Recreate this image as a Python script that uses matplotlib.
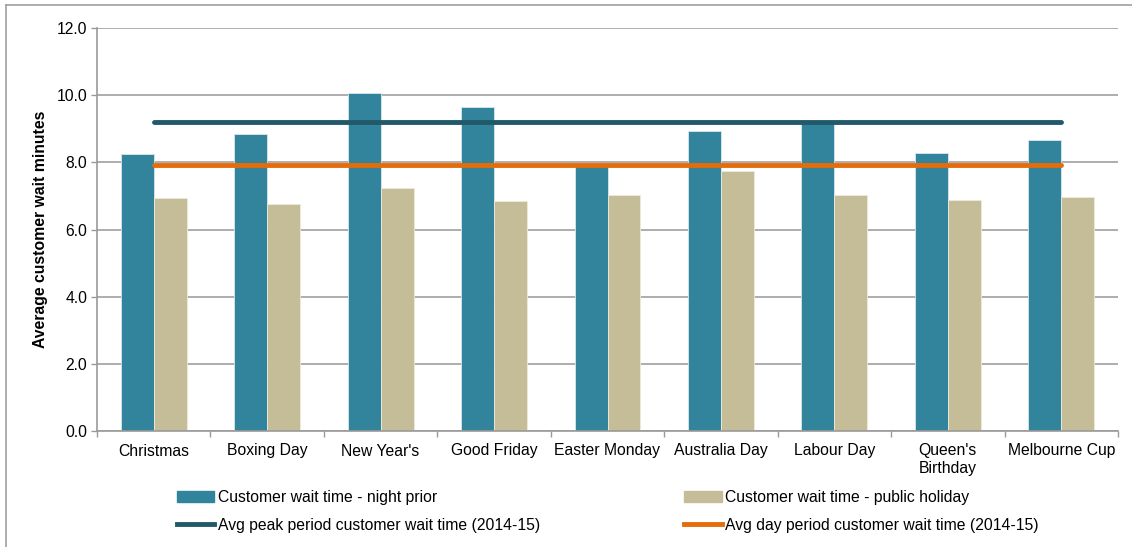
import numpy as np
import matplotlib.pyplot as plt
from matplotlib.lines import Line2D

plt.rcParams['font.family'] = ['Liberation Sans', 'DejaVu Sans']

holidays = ['Christmas', 'Boxing Day', "New Year's", 'Good Friday', 'Easter Monday',
            'Australia Day', 'Labour Day', "Queen's\nBirthday", 'Melbourne Cup']
night_prior = [8.24, 8.84, 10.06, 9.64, 7.92, 8.93, 9.20, 8.27, 8.66]
public_holiday = [6.93, 6.76, 7.23, 6.85, 7.02, 7.74, 7.02, 6.87, 6.96]
avg_peak = 9.19
avg_day = 7.93

c_night = '#31849B'
c_hol = '#C4BD97'
c_peak = '#215968'
c_day = '#E46C0A'
fs = 11.3

fig = plt.figure(figsize=(11.32, 5.47), dpi=100)
ax = fig.add_axes([97/1132, 1 - 431/547, 1021/1132, 403/547])

x = np.arange(len(holidays))
w = 0.29
ax.bar(x - w/2, night_prior, w, color=c_night, edgecolor='#d8e8ec', linewidth=0.6, zorder=2)
ax.bar(x + w/2, public_holiday, w, color=c_hol, edgecolor='#eeeadc', linewidth=0.6, zorder=2)
ax.plot([x[0], x[-1]], [avg_peak, avg_peak], color=c_peak, lw=3.5, solid_capstyle='round', zorder=3)
ax.plot([x[0], x[-1]], [avg_day, avg_day], color=c_day, lw=3.5, solid_capstyle='round', zorder=3)

ax.set_xlim(-0.5, len(holidays) - 0.5)
ax.set_ylim(0, 12)
ax.set_yticks(np.arange(0, 12.1, 2))
ax.set_yticklabels([f'{v:.1f}' for v in np.arange(0, 12.1, 2)], fontsize=fs)
ax.yaxis.grid(True, color='#a0a0a0', lw=1.2, zorder=0)
ax.set_axisbelow(True)

ax.set_xticks(x)
ax.set_xticklabels(holidays, fontsize=fs)
ax.tick_params(axis='x', length=0, pad=9)
ax.set_xticks(np.arange(-0.5, len(holidays)), minor=True)
ax.tick_params(axis='x', which='minor', length=4, color='#999999', width=1)
ax.tick_params(axis='y', length=4, color='#999999', width=1, pad=3)

for s in ['top', 'right']:
    ax.spines[s].set_visible(False)
for s in ['left', 'bottom']:
    ax.spines[s].set_color('#999999')
    ax.spines[s].set_linewidth(1.2)

ax.set_ylabel('Average customer wait minutes', fontsize=fs, fontweight='bold', labelpad=6)

handles = [
    plt.Rectangle((0, 0), 1, 1, color=c_night),
    Line2D([0], [0], color=c_peak, lw=3.5),
    plt.Rectangle((0, 0), 1, 1, color=c_hol),
    Line2D([0], [0], color=c_day, lw=3.5),
]
labels = ['Customer wait time - night prior',
          'Avg peak period customer wait time (2014-15)',
          'Customer wait time - public holiday',
          'Avg day period customer wait time (2014-15)']
fig.legend(handles, labels, ncol=2, loc='upper left', bbox_to_anchor=(177/1132, 1 - 490/547),
           frameon=False, fontsize=fs, handlelength=2.36, handleheight=0.7, handletextpad=0.25,
           columnspacing=9.2, labelspacing=0.8, borderpad=0, borderaxespad=0)

# thin frame lines along the top and left edges
fig.add_artist(Line2D([6/1132, 1], [1 - 5/547, 1 - 5/547], color='#a0a0a0', lw=1.2))
fig.add_artist(Line2D([6/1132, 6/1132], [0, 1 - 5/547], color='#a0a0a0', lw=1.2))

fig.savefig('out.png', dpi=100)
